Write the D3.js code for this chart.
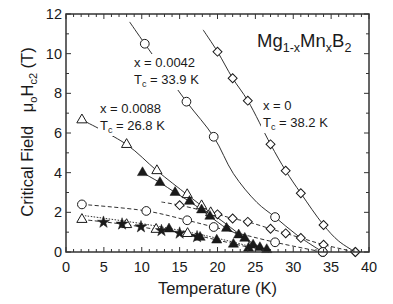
<!DOCTYPE html>
<html><head><meta charset="utf-8">
<script src="https://cdn.jsdelivr.net/npm/d3@7"></script>
<style>
html,body{margin:0;padding:0;background:#fff;}
svg{display:block;font-family:"Liberation Sans",Arial,sans-serif;}
</style></head>
<body><svg id="c" width="393" height="304"></svg>
<script>
// ---- data (Temperature K, critical field T) ----
const xTicks = [0,5,10,15,20,25,30,35,40];
const yTicks = [0,2,4,6,8,10,12];

// x = 0, open diamonds, upper (solid fit)
const dHiT = [20,22,24,27,29,31,34,38.2];
const dHiH = [10.1,8.76,7.63,5.43,4.1,2.96,1.36,0];
const fitDHiT = [18.1,20,22,24,27,29,31,34,36,38.2];
const fitDHiH = [11.2,10.1,8.76,7.63,5.43,4.1,2.96,1.36,0.55,0];
// x = 0, open diamonds, lower (dashed)
const dLoT = [15,20,22,24,27,29,31,34,38.2];
const dLoH = [2.36,1.9,1.69,1.52,1.17,0.94,0.71,0.37,0];
const fitDLoT = [12.6,15,20,22,24,27,29,31,34,38.2];
const fitDLoH = [2.52,2.36,1.9,1.69,1.52,1.17,0.94,0.71,0.37,0];

// x = 0.0042, open circles, upper (solid fit)
const cHiT = [10.4,15.9,19.5,27.6,33.9];
const cHiH = [10.5,7.58,5.81,1.76,0];
const fitCHiT = [8.4,10.4,15.9,19.5,22.1,25.2,27.6,30.5,33.9];
const fitCHiH = [11.6,10.5,7.58,5.81,3.95,2.5,1.76,0.85,0];
// x = 0.0042, open circles, lower (dashed)
const cLoT = [2.1,10.6,16,19.5,27.6,33.9];
const cLoH = [2.4,2.07,1.6,1.26,0.49,0];

// x = 0.0088, open triangles, upper (solid fit)
const tHiT = [2.1,8,12,16,17.9,19.1];
const tHiH = [6.66,5.42,4.1,2.89,2.33,1.98];
const fitTHiT = [2.1,8,12,16,17.9,19.1,21,24,26.8];
const fitTHiH = [6.66,5.42,4.1,2.89,2.33,1.98,1.45,0.6,0];
// filled triangles, upper (solid)
const fHiT = [10.1,12.4,14.4,16.3,17.9,19,21.2,22.8,23.6,24.7,25.6,26.5];
const fHiH = [4.0,3.5,3.0,2.55,2.12,1.8,1.19,0.86,0.69,0.35,0.22,0.12];
// open triangles, lower (dashed)
const tLoT = [2.1,8,11.9,16.05];
const tLoH = [1.64,1.38,1.14,0.93];
const fitTLoT = [2.1,8,11.9,16.05,20,24,26.8];
const fitTLoH = [1.64,1.38,1.14,0.93,0.6,0.25,0];
// stars (dotted)
const sT = [4.95,7.4,9.9,12.6,15,17.3];
const sH = [1.5,1.41,1.27,1.08,0.95,0.77];
const fitST = [2.5,10,16,21,25,26.5];
const fitSH = [1.83,1.43,1.02,0.6,0.2,0];
// filled triangles, lower
const fLoT = [13.6,17.7,19.9,22.1,24.1];
const fLoH = [1.16,0.74,0.6,0.39,0.19];

// ---- layout ----
const svg = d3.select("#c");
const L=66, R=369, T=14, B=252;
const x = d3.scaleLinear().domain([0,40]).range([L,R]);
const y = d3.scaleLinear().domain([0,12]).range([B,T]);
const ink = "#1a1a1a";

const zip = (a,b)=>a.map((v,i)=>[v,b[i]]);
const line = d3.line().x(d=>x(d[0])).y(d=>y(d[1])).curve(d3.curveCatmullRom.alpha(0.5));

function drawLine(tArr,hArr,dash){
  svg.append("path").datum(zip(tArr,hArr)).attr("d",line)
    .attr("fill","none").attr("stroke",ink).attr("stroke-width",0.9)
    .attr("stroke-dasharray",dash||null);
}
drawLine(fitDHiT,fitDHiH);
drawLine(fitDLoT,fitDLoH,"4,2.5");
drawLine(fitCHiT,fitCHiH);
drawLine(cLoT,cLoH,"4,2.5");
drawLine(fitTHiT,fitTHiH);
drawLine(fHiT,fHiH);
drawLine(fitTLoT,fitTLoH,"4,2.5");
drawLine(fitST,fitSH,"1.5,1.5");

function drawPts(tArr,hArr,type,size,filled,rot){
  const sym = d3.symbol().type(type).size(size);
  svg.append("g").selectAll("path").data(zip(tArr,hArr)).join("path")
    .attr("d",sym)
    .attr("transform",d=>`translate(${x(d[0])},${y(d[1])})`+(rot?` rotate(${rot})`:""))
    .attr("fill",filled?ink:"#fff").attr("stroke",ink).attr("stroke-width",filled?0.5:1);
}
drawPts(dHiT,dHiH,d3.symbolSquare,40,false,45);
drawPts(dLoT,dLoH,d3.symbolSquare,40,false,45);
drawPts(cHiT,cHiH,d3.symbolCircle,60,false);
drawPts(cLoT,cLoH,d3.symbolCircle,60,false);
drawPts(tHiT,tHiH,d3.symbolTriangle,45,false);
drawPts(tLoT,tLoH,d3.symbolTriangle,45,false);
drawPts(fHiT,fHiH,d3.symbolTriangle,45,true);
drawPts(fLoT,fLoH,d3.symbolTriangle,45,true);
drawPts(sT,sH,d3.symbolStar,45,true);

// ---- frame & ticks ----
svg.append("rect").attr("x",L).attr("y",T).attr("width",R-L).attr("height",B-T)
  .attr("fill","none").attr("stroke","#333").attr("stroke-width",1.5);
const minX = d3.range(0,41,1), minY = d3.range(0,13,1);
const tk = svg.append("g").attr("stroke","#333").attr("stroke-width",1);
minX.forEach(v=>{
  const len = v%5===0?5:3;
  tk.append("line").attr("x1",x(v)).attr("x2",x(v)).attr("y1",B).attr("y2",B-len);
  tk.append("line").attr("x1",x(v)).attr("x2",x(v)).attr("y1",T).attr("y2",T+len);
});
minY.forEach(v=>{
  const len = v%2===0?5:3;
  tk.append("line").attr("y1",y(v)).attr("y2",y(v)).attr("x1",L).attr("x2",L+len);
  tk.append("line").attr("y1",y(v)).attr("y2",y(v)).attr("x1",R).attr("x2",R-len);
});
svg.append("g").selectAll("text").data(xTicks).join("text")
  .attr("x",d=>x(d)).attr("y",272).attr("text-anchor","middle")
  .attr("font-size",14.5).attr("fill",ink).text(d=>d);
svg.append("g").selectAll("text").data(yTicks).join("text")
  .attr("x",62).attr("y",d=>y(d)+5).attr("text-anchor","end")
  .attr("font-size",14.5).attr("fill",ink).text(d=>d);

// axis titles
svg.append("text").attr("x",217.5).attr("y",294).attr("text-anchor","middle")
  .attr("font-size",16.5).attr("fill",ink).text("Temperature (K)");
const yl = svg.append("text").attr("transform","translate(33,132) rotate(-90)")
  .attr("text-anchor","middle").attr("font-size",16.5).attr("fill",ink)
  .attr("xml:space","preserve").style("white-space","pre");
yl.append("tspan").text("Critical Field   \u03bc");
yl.append("tspan").attr("font-size",11).attr("dy",4).text("o");
yl.append("tspan").attr("dy",-4).text("H");
yl.append("tspan").attr("font-size",11).attr("dy",4).text("c2");
yl.append("tspan").attr("dy",-4).text(" (T)");

// ---- labels with white backgrounds ----
function label(px,py,line1,tc){
  const g = svg.append("g");
  const bg = g.append("rect").attr("fill","#fff");
  const t1 = g.append("text").attr("x",px).attr("y",py).attr("font-size",13).attr("fill",ink).text(line1);
  const t2 = g.append("text").attr("x",px).attr("y",py+17).attr("font-size",13).attr("fill",ink);
  t2.append("tspan").text("T");
  t2.append("tspan").attr("font-size",9).attr("dy",3).text("c");
  t2.append("tspan").attr("dy",-3).text(" = "+tc);
  const b = g.node().getBBox();
  bg.attr("x",b.x-2).attr("y",b.y-1).attr("width",b.width+4).attr("height",b.height+2);
}
label(134,67,"x = 0.0042","33.9 K");
label(100,113,"x = 0.0088","26.8 K");
label(263,110,"x = 0","38.2 K");

const tt = svg.append("text").attr("x",257).attr("y",47).attr("font-size",18.5).attr("fill",ink);
tt.append("tspan").text("Mg");
tt.append("tspan").attr("font-size",12.5).attr("dy",5).text("1-x");
tt.append("tspan").attr("dy",-5).text("Mn");
tt.append("tspan").attr("font-size",12.5).attr("dy",5).text("x");
tt.append("tspan").attr("dy",-5).text("B");
tt.append("tspan").attr("font-size",12.5).attr("dy",5).text("2");
</script></body></html>
